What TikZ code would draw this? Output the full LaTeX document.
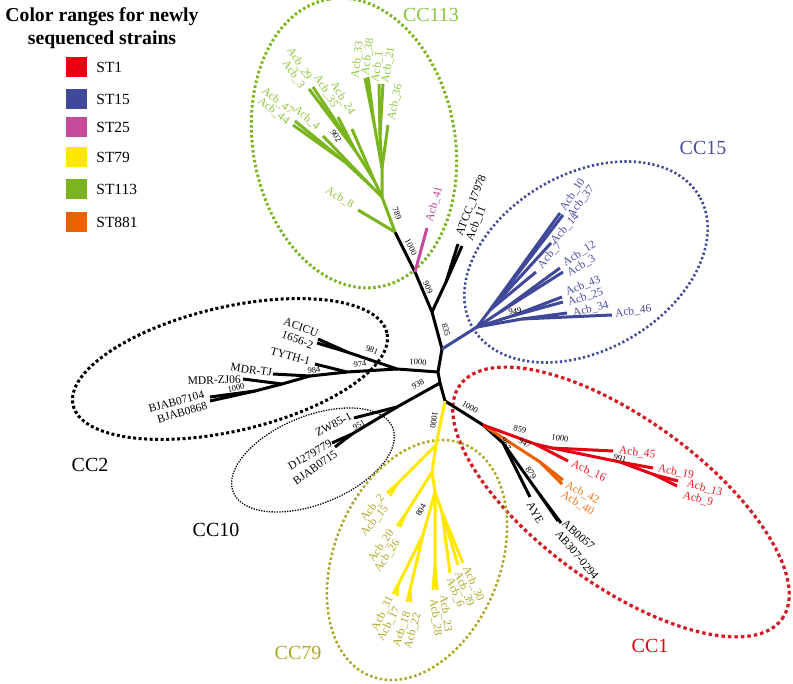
\documentclass[tikz,border=0pt]{standalone}
\usepackage{fontspec}
\setmainfont{Liberation Serif}
\usetikzlibrary{positioning}

\definecolor{st1}{RGB}{230,0,18}
\definecolor{st15}{RGB}{63,72,153}
\definecolor{st25}{RGB}{198,73,154}
\definecolor{st79}{RGB}{255,232,0}
\definecolor{st113}{RGB}{122,181,29}
\definecolor{st881}{RGB}{236,97,0}
\definecolor{olive79}{RGB}{176,166,38}
\definecolor{lgreen}{RGB}{141,198,63}
\definecolor{lblue}{RGB}{72,78,163}
\definecolor{lred}{RGB}{232,30,40}
\definecolor{lorange}{RGB}{240,120,30}
\definecolor{ringred}{RGB}{214,24,34}

\tikzset{
  branch/.style={line width=3pt, line join=round},
  leaf/.style={font=\fontsize{11.5}{12}\selectfont, inner sep=1pt},
  boot/.style={font=\fontsize{8.5}{9}\selectfont, inner sep=0pt},
  cclabel/.style={font=\fontsize{20}{22}\selectfont, inner sep=0pt},
  legendbox/.style={minimum width=21pt, minimum height=20pt, inner sep=0pt},
  legendtext/.style={font=\fontsize{15.5}{17}\selectfont, inner sep=0pt},
  ring113/.style={draw=st113, line width=3pt, dash pattern=on 2.5pt off 2.5pt},
  ring15/.style={draw=st15, line width=2.6pt, dash pattern=on 2.2pt off 2.5pt},
  ring1/.style={draw=ringred, line width=3.2pt, dash pattern=on 3.5pt off 3pt},
  ring2/.style={draw=black, line width=3pt, dash pattern=on 3pt off 2.5pt},
  ring10/.style={draw=black, line width=1.3pt, dash pattern=on 1.3pt off 1.3pt},
  ring79/.style={draw=olive79, line width=2.5pt, dash pattern=on 2.5pt off 2.5pt},
}

\begin{document}
\begin{tikzpicture}[x=1pt,y=-1pt]
\useasboundingbox (0,0) rectangle (793,684);

% legend
\node[font=\fontsize{19.7}{23}\selectfont\bfseries, align=center, anchor=north, inner sep=0pt] (legendtitle) at (102,7) {Color ranges for newly\\sequenced strains};
\foreach \c/\t/\y in {st1/ST1/67, st15/ST15/99, st25/ST25/127.5, st79/ST79/157.5, st113/ST113/189, st881/ST881/222}{
  \node[legendbox, fill=\c] (sq\t) at (76.5,\y) {};
  \node[legendtext, right=9pt of sq\t] (lg\t) {\t};
}

% clonal complex rings
\draw[ring113, rotate around={100:(354,143)}] (354,143) ellipse [x radius=146pt, y radius=101pt];
\draw[ring15, rotate around={30:(586,262)}] (586,262) ellipse [x radius=131pt, y radius=88pt];
\draw[ring1, rotate around={-36:(621,502)}] (621,502) ellipse [x radius=199pt, y radius=83pt];
\draw[ring2, rotate around={13:(230,369)}] (230,369) ellipse [x radius=161pt, y radius=62pt];
\draw[ring10, rotate around={22:(313,460)}] (313,460) ellipse [x radius=86pt, y radius=44pt];
\draw[ring79, rotate around={68:(417,560)}] (417,560) ellipse [x radius=125pt, y radius=83pt];

\node[cclabel, lgreen] (cc113) at (431,15) {CC113};
\node[cclabel, lblue] (cc15) at (703,148) {CC15};
\node[cclabel, st1] (cc1) at (650,646) {CC1};
\node[cclabel] (cc2) at (90,465) {CC2};
\node[cclabel] (cc10) at (216,530) {CC10};
\node[cclabel, olive79] (cc79) at (298,653) {CC79};

% backbone
\coordinate (g0) at (395,232);
\coordinate (j1) at (415,272);
\coordinate (j2) at (432,312);
\coordinate (j3) at (442,349);
\coordinate (j4) at (438,372);
\coordinate (j5) at (440,383);
\coordinate (j6) at (445,401);
\draw[branch] (g0) -- (j1) -- (j2) -- (j3) -- (j4) -- (j5) -- (j6);

\coordinate (acb41) at (427,228);
\draw[branch, st25] (j1) -- (acb41);
\coordinate (at1) at (446,282);
\coordinate (atcc) at (458,244);
\coordinate (acb11) at (462,246);
\draw[branch] (j2) -- (at1) -- (atcc);
\draw[branch] (at1) -- (acb11);

% CC113
\coordinate (g1) at (382,197);
\coordinate (g2) at (382,168);
\coordinate (g3) at (380,135);
\coordinate (g4) at (374,123);
\coordinate (u1) at (370,185);
\coordinate (u2) at (345,162);
\coordinate (s1) at (374,180);
\coordinate (s2) at (355,150);
\coordinate (acb8) at (358,210);
\coordinate (acb36) at (388,125);
\coordinate (acb1) at (379,84);
\coordinate (acb21) at (383,84);
\coordinate (acb33) at (365,78);
\coordinate (acb38) at (368,77);
\coordinate (acb47) at (295,121);
\coordinate (acb44) at (293,125);
\coordinate (acb4) at (323,136);
\coordinate (acb24) at (352,129);
\coordinate (acb35) at (338,117);
\coordinate (acb29) at (309,89);
\coordinate (acb3) at (313,87);
\begin{scope}[branch, st113]
\draw (g0) -- (acb8);
\draw (g0) -- (g1) -- (g2) -- (acb36);
\draw (g2) -- (g3) -- (acb1);
\draw (g3) -- (acb21);
\draw (g2) -- (g4) -- (acb33);
\draw (g4) -- (acb38);
\draw (g1) -- (u1) -- (acb4);
\draw (u1) -- (u2) -- (acb47);
\draw (u2) -- (acb44);
\draw (g1) -- (s1) -- (acb24);
\draw (s1) -- (s2) -- (acb35);
\draw (s2) -- (acb29);
\draw (s2) -- (acb3);
\end{scope}

% CC15
\coordinate (b0) at (477,327);
\coordinate (ba) at (490,310);
\coordinate (bb) at (500,312);
\coordinate (bc) at (512,316);
\coordinate (bd) at (522,319);
\coordinate (acb10) at (560,213);
\coordinate (acb37) at (563,215);
\coordinate (acb14) at (551,243);
\coordinate (acb7) at (536,272);
\coordinate (acb12) at (560,268);
\coordinate (acb3b) at (563,272);
\coordinate (acb43) at (562,297);
\coordinate (acb25) at (563,302);
\coordinate (acb34) at (567,313);
\coordinate (acb46) at (612,315);
\begin{scope}[branch, st15]
\draw (j3) -- (b0) -- (ba) -- (acb10);
\draw (ba) -- (acb37);
\draw (ba) -- (acb14);
\draw (ba) -- (acb7);
\draw (b0) -- (bb) -- (acb12);
\draw (bb) -- (acb3b);
\draw (b0) -- (bc) -- (acb43);
\draw (bc) -- (acb25);
\draw (b0) -- (bd) -- (acb34);
\draw (bd) -- (acb46);
\end{scope}

% CC1
\coordinate (m1) at (483,425);
\coordinate (m2) at (503,443);
\coordinate (m3) at (540,495);
\coordinate (o1) at (540,462);
\coordinate (r1) at (535,444);
\coordinate (r2) at (552,448);
\coordinate (r3) at (620,462);
\coordinate (r4) at (655,475);
\coordinate (aye) at (530,497);
\coordinate (ab0057) at (558,521);
\coordinate (ab307) at (561,523);
\coordinate (acb42) at (563,480);
\coordinate (acb40) at (562,484);
\coordinate (acb16) at (568,461);
\coordinate (acb45) at (613,451);
\coordinate (acb19) at (653,468);
\coordinate (acb13) at (678,481);
\coordinate (acb9) at (677,486);
\draw[branch] (j6) -- (m1) -- (m2) -- (aye);
\draw[branch] (m2) -- (m3) -- (ab0057);
\draw[branch] (m3) -- (ab307);
\draw[branch, st881] (m1) -- (o1) -- (acb42);
\draw[branch, st881] (o1) -- (acb40);
\begin{scope}[branch, st1]
\draw (m1) -- (r1) -- (acb16);
\draw (r1) -- (r2) -- (acb45);
\draw (r2) -- (r3) -- (acb19);
\draw (r3) -- (r4) -- (acb13);
\draw (r4) -- (acb9);
\end{scope}

% CC79
\coordinate (y1) at (436,445);
\coordinate (y1a) at (397,484);
\coordinate (y2) at (432,472);
\coordinate (y2a) at (405,515);
\coordinate (y3) at (435,492);
\coordinate (y4) at (423,535);
\coordinate (y4a) at (398,585);
\coordinate (y4b) at (410,590);
\coordinate (y5) at (435,565);
\coordinate (y6) at (442,512);
\coordinate (acb2) at (387,493);
\coordinate (acb15) at (390,496);
\coordinate (acb20) at (397,526);
\coordinate (acb26) at (400,527);
\coordinate (acb31) at (393,594);
\coordinate (acb17) at (397,596);
\coordinate (acb18) at (407,602);
\coordinate (acb22) at (411,602);
\coordinate (acb23) at (437,590);
\coordinate (acb28) at (433,590);
\coordinate (acb30) at (463,563);
\coordinate (acb39) at (458,565);
\coordinate (acb6) at (450,573);
\begin{scope}[branch, st79]
\draw (j6) -- (y1) -- (y1a) -- (acb2);
\draw (y1a) -- (acb15);
\draw (y1) -- (y2) -- (y2a) -- (acb20);
\draw (y2a) -- (acb26);
\draw (y2) -- (y3) -- (y4) -- (y4a) -- (acb31);
\draw (y4a) -- (acb17);
\draw (y4) -- (y4b) -- (acb18);
\draw (y4b) -- (acb22);
\draw (y3) -- (y5) -- (acb23);
\draw (y5) -- (acb28);
\draw (y3) -- (y6) -- (acb30);
\draw (y6) -- (acb39);
\draw (y6) -- (acb6);
\end{scope}

% CC2
\coordinate (k1) at (397,369);
\coordinate (k2) at (347,352);
\coordinate (k3) at (347,372);
\coordinate (k4) at (310,376);
\coordinate (k5) at (282,384);
\coordinate (k6) at (255,391);
\coordinate (acicu) at (318,339);
\coordinate (a1656) at (317,343);
\coordinate (tyth) at (315,364);
\coordinate (mdrtj) at (273,374);
\coordinate (mdrzj) at (243,379);
\coordinate (bjab07104) at (210,397);
\coordinate (bjab0868) at (210,401);
\draw[branch] (j4) -- (k1) -- (k2) -- (acicu);
\draw[branch] (k2) -- (a1656);
\draw[branch] (k1) -- (k3) -- (tyth);
\draw[branch] (k3) -- (k4) -- (mdrtj);
\draw[branch] (k4) -- (k5) -- (mdrzj);
\draw[branch] (k5) -- (k6) -- (bjab07104);
\draw[branch] (k6) -- (bjab0868);

% CC10
\coordinate (l1) at (397,407);
\coordinate (l2) at (352,434);
\coordinate (zw85) at (354,418);
\coordinate (d127) at (332,443);
\coordinate (bjab0715) at (335,447);
\draw[branch] (j5) -- (l1) -- (zw85);
\draw[branch] (l1) -- (l2) -- (d127);
\draw[branch] (l2) -- (bjab0715);

% leaf labels
\node[leaf, st25, anchor=west, rotate=74] (lacb41) at (429,223) {Acb\_41};
\node[leaf, anchor=west, rotate=68] (latcc) at (459,236) {ATCC\_17978};
\node[leaf, anchor=west, rotate=68] (lacb11) at (469,241) {Acb\_11};

\node[leaf, lgreen, anchor=east, rotate=-30] (lacb8) at (354,206) {Acb\_8};
\node[leaf, lgreen, anchor=east, rotate=-38] (lacb47) at (293,113) {Acb\_47};
\node[leaf, lgreen, anchor=east, rotate=-38] (lacb44) at (289,123) {Acb\_44};
\node[leaf, lgreen, anchor=east, rotate=-42] (lacb4) at (319,129) {Acb\_4};
\node[leaf, lgreen, anchor=east, rotate=-57] (lacb29) at (310,80) {Acb\_29};
\node[leaf, lgreen, anchor=east, rotate=-55] (lacb3) at (303,88) {Acb\_3};
\node[leaf, lgreen, anchor=east, rotate=-59] (lacb35) at (336,108) {Acb\_35};
\node[leaf, lgreen, anchor=east, rotate=-58] (lacb24) at (353,115) {Acb\_24};
\node[leaf, lgreen, anchor=west, rotate=83] (lacb33) at (355,79) {Acb\_33};
\node[leaf, lgreen, anchor=west, rotate=82] (lacb38) at (365,76) {Acb\_38};
\node[leaf, lgreen, anchor=west, rotate=82] (lacb1) at (375,83) {Acb\_1};
\node[leaf, lgreen, anchor=west, rotate=80] (lacb21) at (385,84) {Acb\_21};
\node[leaf, lgreen, anchor=west, rotate=78] (lacb36) at (391,121) {Acb\_36};

\node[leaf, lblue, anchor=west, rotate=57] (lacb10) at (562,211) {Acb\_10};
\node[leaf, lblue, anchor=west, rotate=52] (lacb37) at (569,217) {Acb\_37};
\node[leaf, lblue, anchor=west, rotate=48] (lacb14) at (552,243) {Acb\_14};
\node[leaf, lblue, anchor=west, rotate=50] (lacb7) at (539,268) {Acb\_7};
\node[leaf, lblue, anchor=west, rotate=32] (lacb12) at (563,264) {Acb\_12};
\node[leaf, lblue, anchor=west, rotate=30] (lacb3b) at (567,274) {Acb\_3};
\node[leaf, lblue, anchor=west, rotate=22] (lacb43) at (565,293) {Acb\_43};
\node[leaf, lblue, anchor=west, rotate=18] (lacb25) at (567,303) {Acb\_25};
\node[leaf, lblue, anchor=west, rotate=14] (lacb34) at (572,314) {Acb\_34};
\node[leaf, lblue, anchor=west, rotate=8] (lacb46) at (614,314) {Acb\_46};

\node[leaf, lred, anchor=west, rotate=-8] (lacb45) at (618,450) {Acb\_45};
\node[leaf, lred, anchor=west, rotate=-12] (lacb19) at (657,468) {Acb\_19};
\node[leaf, lred, anchor=west, rotate=-16] (lacb13) at (686,483) {Acb\_13};
\node[leaf, lred, anchor=west, rotate=-15] (lacb9) at (682,495) {Acb\_9};
\node[leaf, lred, anchor=west, rotate=-25] (lacb16) at (571,463) {Acb\_16};
\node[leaf, lorange, anchor=west, rotate=-27] (lacb42) at (565,484) {Acb\_42};
\node[leaf, lorange, anchor=west, rotate=-32] (lacb40) at (561,493) {Acb\_40};
\node[leaf, anchor=west, rotate=-60] (laye) at (529,502) {AYE};
\node[leaf, anchor=west, rotate=-42] (lab0057) at (563,521) {AB0057};
\node[leaf, anchor=west, rotate=-50] (lab307) at (557,531) {AB307-0294};

\node[leaf, olive79, anchor=east, rotate=50] (lacb2) at (383,495) {Acb\_2};
\node[leaf, olive79, anchor=east, rotate=50] (lacb15) at (387,506) {Acb\_15};
\node[leaf, olive79, anchor=east, rotate=56] (lacb20) at (392,530) {Acb\_20};
\node[leaf, olive79, anchor=east, rotate=56] (lacb26) at (398,540) {Acb\_26};
\node[leaf, olive79, anchor=east, rotate=64] (lacb31) at (391,596) {Acb\_31};
\node[leaf, olive79, anchor=east, rotate=62] (lacb17) at (398,607) {Acb\_17};
\node[leaf, olive79, anchor=east, rotate=72] (lacb18) at (408,611) {Acb\_18};
\node[leaf, olive79, anchor=east, rotate=74] (lacb22) at (418,612) {Acb\_22};
\node[leaf, olive79, anchor=west, rotate=-82] (lacb23) at (443,594) {Acb\_23};
\node[leaf, olive79, anchor=west, rotate=-82] (lacb28) at (433,598) {Acb\_28};
\node[leaf, olive79, anchor=west, rotate=-65] (lacb30) at (465,566) {Acb\_30};
\node[leaf, olive79, anchor=west, rotate=-68] (lacb39) at (457,571) {Acb\_39};
\node[leaf, olive79, anchor=west, rotate=-68] (lacb6) at (449,577) {Acb\_6};

\node[leaf, anchor=east, rotate=-20] (lacicu) at (319,334) {ACICU};
\node[leaf, anchor=east, rotate=-20] (l1656) at (314,346) {1656-2};
\node[leaf, anchor=east, rotate=-15] (ltyth) at (311,362) {TYTH-1};
\node[leaf, anchor=east, rotate=-8] (lmdrtj) at (273,373) {MDR-TJ};
\node[leaf, anchor=east, rotate=2] (lmdrzj) at (242,379) {MDR-ZJ06};
\node[leaf, anchor=east, rotate=15] (lbjab07104) at (205,394) {BJAB07104};
\node[leaf, anchor=east, rotate=16] (lbjab0868) at (208,405) {BJAB0868};

\node[leaf, anchor=east, rotate=27] (lzw85) at (352,415) {ZW85-1};
\node[leaf, anchor=east, rotate=30] (ld127) at (332,442) {D1279779};
\node[leaf, anchor=east, rotate=35] (lbjab0715) at (337,452) {BJAB0715};

% bootstrap values
\node[boot, rotate=-63] (bs1) at (411,247) {1000};
\node[boot, rotate=-68] (bs2) at (397,213) {789};
\node[boot, rotate=-55] (bs3) at (336,136) {902};
\node[boot, rotate=-67] (bs4) at (428,287) {909};
\node[boot, rotate=-75] (bs5) at (446,330) {835};
\node[boot, rotate=10] (bs6) at (515,311) {949};
\node[boot, rotate=-4] (bs7) at (418,362) {1000};
\node[boot, rotate=-22] (bs8) at (372,350) {981};
\node[boot, rotate=8] (bs9) at (360,364) {974};
\node[boot, rotate=8] (bs10) at (314,370) {984};
\node[boot, rotate=12] (bs11) at (236,388) {1000};
\node[boot, rotate=28] (bs12) at (418,384) {938};
\node[boot, rotate=30] (bs13) at (359,425) {951};
\node[boot, rotate=-30] (bs14) at (470,407) {1000};
\node[boot, rotate=-13] (bs15) at (520,429) {859};
\node[boot, rotate=-30] (bs16) at (525,443) {947};
\node[boot, rotate=-60] (bs17) at (506,444) {967};
\node[boot, rotate=-55] (bs18) at (531,473) {879};
\node[boot, rotate=-10] (bs19) at (560,438) {1000};
\node[boot, rotate=-15] (bs20) at (620,458) {991};
\node[boot, rotate=-100] (bs21) at (434,420) {1000};
\node[boot, rotate=62] (bs22) at (421,510) {804};

\end{tikzpicture}
\end{document}
